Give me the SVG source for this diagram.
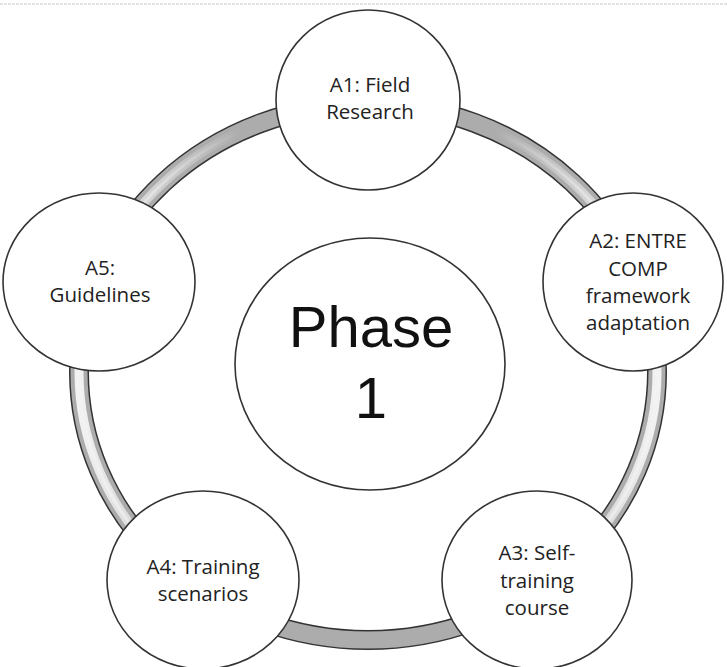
<svg xmlns="http://www.w3.org/2000/svg" width="727" height="667" viewBox="0 0 727 667">
<style>
.node{fill:#fff;stroke:#333;stroke-width:1.6}
.t{font-family:"Open Sans","Liberation Sans",sans-serif;font-size:20.5px;fill:#222;text-anchor:middle}
.big{font-family:"Liberation Sans","Open Sans",sans-serif;font-size:58px;fill:#111;text-anchor:middle}
</style>
<defs>
<linearGradient id="sheen" gradientUnits="userSpaceOnUse" x1="79" y1="0" x2="657" y2="0">
<stop offset="0" stop-color="#f2f2f2" stop-opacity="1"/>
<stop offset="0.28" stop-color="#f2f2f2" stop-opacity="0"/>
<stop offset="0.72" stop-color="#f2f2f2" stop-opacity="0"/>
<stop offset="1" stop-color="#f2f2f2" stop-opacity="1"/>
</linearGradient>
</defs>
<rect width="727" height="667" fill="#fff"/>
<line x1="0" y1="4" x2="727" y2="4" stroke="#e2e2e2" stroke-width="2" stroke-dasharray="3 1"/>
<g id="connectors">
<ellipse cx="368" cy="372" rx="289" ry="268" fill="none" stroke="#333" stroke-width="20"/>
<ellipse cx="368" cy="372" rx="289" ry="268" fill="none" stroke="#acacac" stroke-width="17"/>
<ellipse cx="368" cy="372" rx="289" ry="268" fill="none" stroke="url(#sheen)" stroke-width="9"/>
<ellipse cx="368" cy="372" rx="289" ry="268" fill="none" stroke="url(#sheen)" stroke-width="3" stroke-opacity="0.9"/>
</g>
<g id="center">
<ellipse class="node" cx="370" cy="364" rx="135" ry="126"/>
<text class="big" x="371" y="347">Phase</text>
<text class="big" x="371" y="418">1</text>
</g>
<g id="A1">
<ellipse class="node" cx="368" cy="100" rx="92" ry="90"/>
<text class="t" x="370" y="92">A1: Field</text>
<text class="t" x="370" y="119">Research</text>
</g>
<g id="A2">
<ellipse class="node" cx="633" cy="282" rx="90" ry="89"/>
<text class="t" x="638" y="248">A2: ENTRE</text>
<text class="t" x="638" y="276">COMP</text>
<text class="t" x="638" y="303">framework</text>
<text class="t" x="638" y="330">adaptation</text>
</g>
<g id="A3">
<ellipse class="node" cx="537" cy="580" rx="95" ry="89"/>
<text class="t" x="537" y="560">A3: Self-</text>
<text class="t" x="537" y="588">training</text>
<text class="t" x="537" y="615">course</text>
</g>
<g id="A4">
<ellipse class="node" cx="203" cy="580" rx="96" ry="89"/>
<text class="t" x="203" y="574">A4: Training</text>
<text class="t" x="203" y="601">scenarios</text>
</g>
<g id="A5">
<ellipse class="node" cx="99" cy="282" rx="96" ry="89"/>
<text class="t" x="100" y="275">A5:</text>
<text class="t" x="100" y="302">Guidelines</text>
</g>
</svg>
